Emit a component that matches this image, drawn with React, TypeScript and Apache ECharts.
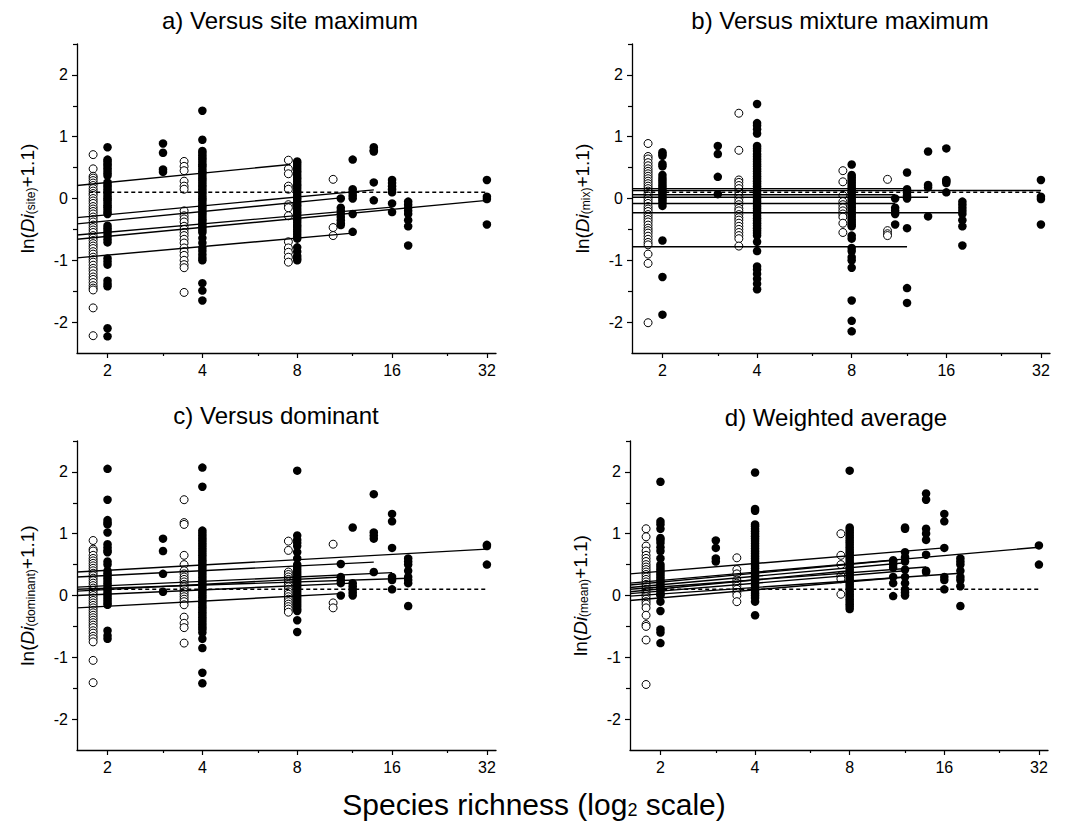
import React, { useEffect, useRef } from 'react';
import * as echarts from 'echarts';

const FONT = '"Liberation Sans", Arial, Helvetica, sans-serif';

const panelTitles = ['a) Versus site maximum', 'b) Versus mixture maximum', 'c) Versus dominant', 'd) Weighted average'];
const yNameSubs = ['(site)', '(mix)', '(dominant)', '(mean)'];
const xTickValues = [2, 4, 8, 16, 32];
const xMinorTickValues = [3, 6, 12, 24];
const yTickValues = [-2, -1, 0, 1, 2];
const yMinorTickValues = [-1.5, -0.5, 0.5, 1.5, 2.5];
const xRange = [1.6, 34.2];
const yRange = [-2.5, 2.5];
const nullLevel = 0.1;
const nullLineX = [1.75, 32];

// richness positions of the columns (open circles are offset to the left)
const openX = [1.8, 3.5, 7.5, 10.4];
const filledX = [2, 3, 4, 8, 11, 12, 14, 16, 18, 32];

// a) versus site maximum
const siteOpen = [
  [0.71, 0.48, 0.36, 0.33, 0.29, 0.25, 0.21, 0.16, 0.12, 0.08, 0.05, 0.0, -0.04, -0.08, -0.13, -0.17, -0.21, -0.25, -0.3, -0.34, -0.38, -0.43, -0.47, -0.51, -0.55, -0.6, -0.64, -0.68, -0.73, -0.77, -0.81, -0.86, -0.9, -0.95, -0.99, -1.03, -1.08, -1.13, -1.17, -1.22, -1.27, -1.31, -1.36, -1.41, -1.45, -1.48, -1.77, -2.22],
  [0.6, 0.52, 0.45, 0.28, 0.2, 0.15, -0.2, -0.28, -0.33, -0.38, -0.45, -0.5, -0.55, -0.6, -0.66, -0.72, -0.8, -0.86, -0.92, -1.0, -1.07, -1.12, -1.52],
  [0.62, 0.48, 0.4, 0.2, 0.15, -0.1, -0.15, -0.28, -0.7, -0.8, -0.87, -0.95, -1.03],
  [0.31, -0.47, -0.6],
];
const siteFilled = [
  [0.83, 0.63, 0.6, 0.56, 0.53, 0.49, 0.45, 0.41, 0.37, 0.26, 0.22, 0.19, 0.15, 0.11, 0.08, 0.04, 0.0, -0.03, -0.07, -0.11, -0.14, -0.18, -0.22, -0.25, -0.44, -0.48, -0.52, -0.56, -0.61, -0.66, -0.71, -0.97, -1.02, -1.07, -1.33, -1.38, -1.42, -2.1, -2.23],
  [0.89, 0.74, 0.47, 0.43],
  [1.42, 0.95, 0.77, 0.74, 0.7, 0.66, 0.63, 0.59, 0.55, 0.52, 0.48, 0.44, 0.41, 0.37, 0.33, 0.3, 0.26, 0.22, 0.19, 0.15, 0.11, 0.08, 0.04, 0.0, -0.03, -0.07, -0.11, -0.14, -0.18, -0.22, -0.25, -0.29, -0.33, -0.36, -0.4, -0.44, -0.47, -0.51, -0.55, -0.64, -0.72, -0.8, -0.85, -0.91, -0.96, -1.0, -1.37, -1.49, -1.65],
  [0.6, 0.57, 0.53, 0.49, 0.45, 0.42, 0.38, 0.34, 0.31, 0.27, 0.23, 0.2, 0.16, 0.12, 0.09, 0.05, 0.01, -0.02, -0.06, -0.1, -0.13, -0.17, -0.21, -0.24, -0.28, -0.32, -0.35, -0.39, -0.43, -0.46, -0.5, -0.54, -0.58, -0.62, -0.65, -0.79, -0.86, -0.93, -0.97, -1.0],
  [0.0, -0.15, -0.2, -0.25, -0.3, -0.35, -0.4, -0.43],
  [0.63, 0.15, 0.1, 0.05, 0.0, -0.25, -0.54],
  [0.83, 0.78, 0.76, 0.26, -0.03],
  [0.3, 0.25, 0.2, 0.15, 0.1, -0.08, -0.22],
  [-0.05, -0.1, -0.15, -0.2, -0.25, -0.35, -0.45, -0.76],
  [0.3, 0.03, -0.01, -0.42],
];
// regression lines: [x start, y start, x end, y end]
const siteLines = [
  [1.6, 0.21, 7.6, 0.55],
  [1.6, -0.31, 14, 0.14],
  [1.6, -0.41, 11, 0.01],
  [1.6, -0.59, 16, -0.14],
  [1.6, -0.66, 32, -0.03],
  [1.6, -0.96, 12, -0.56],
];

// b) versus mixture maximum
const mixOpen = [
  [0.89, 0.68, 0.64, 0.58, 0.53, 0.48, 0.44, 0.4, 0.36, 0.32, 0.28, 0.24, 0.2, 0.16, 0.12, 0.08, 0.04, 0.0, -0.04, -0.08, -0.13, -0.17, -0.21, -0.26, -0.3, -0.34, -0.38, -0.43, -0.48, -0.52, -0.56, -0.61, -0.66, -0.71, -0.75, -0.9, -1.05, -2.01],
  [1.38, 0.78, 0.3, 0.26, 0.21, 0.16, 0.1, 0.05, 0.0, -0.05, -0.1, -0.16, -0.2, -0.26, -0.31, -0.35, -0.4, -0.45, -0.5, -0.55, -0.6, -0.65, -0.77],
  [0.45, 0.27, 0.05, -0.05, -0.1, -0.15, -0.2, -0.25, -0.3, -0.4, -0.55],
  [0.31, -0.52, -0.57, -0.6],
];
const mixFilled = [
  [0.75, 0.72, 0.69, 0.56, 0.52, 0.38, 0.33, 0.29, 0.25, 0.21, 0.17, 0.13, 0.09, 0.05, 0.01, -0.03, -0.07, -0.12, -0.68, -1.27, -1.88],
  [0.85, 0.72, 0.35, 0.07],
  [1.53, 1.22, 1.18, 1.12, 1.05, 0.85, 0.81, 0.77, 0.72, 0.68, 0.64, 0.6, 0.56, 0.52, 0.48, 0.44, 0.4, 0.36, 0.32, 0.28, 0.24, 0.2, 0.16, 0.12, 0.08, 0.04, 0.0, -0.04, -0.08, -0.12, -0.16, -0.2, -0.24, -0.28, -0.32, -0.36, -0.4, -0.44, -0.48, -0.52, -0.56, -0.6, -0.7, -0.85, -1.1, -1.15, -1.22, -1.3, -1.38, -1.47],
  [0.55, 0.38, 0.34, 0.3, 0.26, 0.22, 0.18, 0.14, 0.1, 0.06, 0.02, -0.02, -0.06, -0.1, -0.14, -0.18, -0.22, -0.26, -0.3, -0.34, -0.38, -0.42, -0.45, -0.6, -0.65, -0.8, -0.85, -0.95, -1.0, -1.12, -1.65, -1.98, -2.15],
  [0.0, -0.15, -0.2, -0.25, -0.42],
  [0.42, 0.15, 0.1, 0.05, 0.0, -0.48, -1.45, -1.69],
  [0.76, 0.22, 0.18, -0.29],
  [0.81, 0.3, 0.28, 0.25, 0.1],
  [-0.05, -0.1, -0.15, -0.2, -0.25, -0.35, -0.45, -0.76],
  [0.3, 0.03, -0.01, -0.42],
];
const mixLines = [
  [1.6, 0.16, 12, 0.16],
  [1.6, 0.13, 32, 0.13],
  [1.6, 0.06, 11, 0.06],
  [1.6, 0.02, 14, 0.02],
  [1.6, -0.08, 11, -0.08],
  [1.6, -0.23, 18, -0.23],
  [1.6, -0.78, 12, -0.78],
];

// c) versus dominant
const domOpen = [
  [0.89, 0.75, 0.72, 0.65, 0.6, 0.56, 0.52, 0.48, 0.44, 0.4, 0.36, 0.32, 0.28, 0.24, 0.2, 0.16, 0.12, 0.08, 0.04, 0.0, -0.04, -0.08, -0.12, -0.16, -0.2, -0.24, -0.28, -0.32, -0.36, -0.4, -0.44, -0.48, -0.52, -0.57, -0.61, -0.66, -0.7, -0.75, -1.05, -1.41],
  [1.55, 1.18, 1.15, 0.65, 0.5, 0.4, 0.35, 0.3, 0.26, 0.22, 0.18, 0.14, 0.1, 0.06, 0.02, -0.02, -0.06, -0.1, -0.15, -0.35, -0.45, -0.52, -0.77],
  [0.88, 0.73, 0.38, 0.34, 0.3, 0.26, 0.22, 0.18, 0.14, 0.1, 0.06, 0.02, -0.02, -0.06, -0.1, -0.14, -0.18, -0.22, -0.27],
  [0.83, -0.12, -0.2],
];
const domFilled = [
  [2.05, 1.55, 1.22, 1.18, 1.15, 1.02, 0.83, 0.78, 0.73, 0.7, 0.55, 0.5, 0.4, 0.36, 0.32, 0.28, 0.24, 0.2, 0.16, 0.12, 0.08, 0.04, 0.0, -0.04, -0.08, -0.12, -0.15, -0.57, -0.65, -0.7],
  [0.92, 0.72, 0.35, 0.06],
  [2.07, 1.76, 1.05, 1.01, 0.97, 0.93, 0.89, 0.85, 0.81, 0.77, 0.73, 0.69, 0.65, 0.61, 0.57, 0.53, 0.49, 0.45, 0.41, 0.37, 0.33, 0.29, 0.25, 0.21, 0.17, 0.13, 0.09, 0.05, 0.01, -0.03, -0.07, -0.11, -0.15, -0.19, -0.23, -0.27, -0.31, -0.35, -0.39, -0.43, -0.47, -0.51, -0.55, -0.6, -0.7, -0.85, -1.25, -1.42],
  [2.02, 0.97, 0.9, 0.85, 0.8, 0.7, 0.6, 0.5, 0.46, 0.42, 0.38, 0.34, 0.3, 0.26, 0.22, 0.18, 0.14, 0.1, 0.06, 0.02, -0.02, -0.06, -0.1, -0.14, -0.18, -0.22, -0.25, -0.4, -0.59],
  [0.51, 0.3, 0.25, 0.2, 0.0],
  [1.1, 0.2, 0.15, 0.1, 0.05, 0.0],
  [1.64, 1.02, 0.97, 0.92, 0.38],
  [1.32, 1.2, 0.77, 0.3, 0.25, 0.1],
  [0.6, 0.55, 0.5, 0.4, 0.3, 0.25, 0.2, -0.17],
  [0.82, 0.8, 0.5],
];
const domLines = [
  [1.6, 0.38, 32, 0.75],
  [1.6, 0.3, 14, 0.54],
  [1.6, 0.135, 16, 0.37],
  [1.6, 0.1, 18, 0.28],
  [1.6, 0.07, 11, 0.3],
  [1.6, 0.0, 12, 0.2],
  [1.6, -0.2, 11, 0.03],
];

// d) weighted average
const meanOpen = [
  [1.08, 0.95, 0.8, 0.72, 0.65, 0.6, 0.55, 0.5, 0.46, 0.42, 0.38, 0.34, 0.3, 0.26, 0.22, 0.18, 0.14, 0.1, 0.06, 0.02, -0.02, -0.06, -0.1, -0.14, -0.2, -0.32, -0.47, -0.5, -0.72, -1.44],
  [0.61, 0.42, 0.35, 0.25, 0.2, 0.15, 0.1, 0.05, 0.0, -0.1],
  [1.0, 0.65, 0.5, 0.32, 0.27, 0.02],
  [],
];
const meanFilled = [
  [1.84, 1.2, 1.15, 1.08, 0.93, 0.9, 0.85, 0.78, 0.72, 0.6, 0.5, 0.46, 0.42, 0.38, 0.34, 0.3, 0.26, 0.22, 0.18, 0.14, 0.1, 0.06, 0.02, 0.0, -0.1, -0.25, -0.55, -0.6, -0.77],
  [0.89, 0.77, 0.6, 0.55],
  [1.99, 1.4, 1.37, 1.15, 1.12, 1.08, 1.04, 1.0, 0.96, 0.92, 0.88, 0.84, 0.8, 0.76, 0.72, 0.68, 0.64, 0.6, 0.56, 0.52, 0.48, 0.44, 0.4, 0.36, 0.32, 0.28, 0.24, 0.2, 0.16, 0.12, 0.08, 0.04, 0.0, -0.04, -0.1, -0.32],
  [2.02, 1.1, 1.06, 1.02, 0.98, 0.94, 0.9, 0.86, 0.82, 0.78, 0.74, 0.7, 0.66, 0.62, 0.58, 0.54, 0.5, 0.46, 0.42, 0.38, 0.34, 0.3, 0.26, 0.22, 0.18, 0.14, 0.1, 0.06, 0.02, -0.02, -0.06, -0.1, -0.14, -0.18, -0.22],
  [0.57, 0.55, 0.5, 0.45, 0.3, 0.2, -0.01],
  [1.1, 1.08, 0.7, 0.62, 0.55, 0.42, 0.3, 0.2, 0.1, 0.05, 0.0],
  [1.65, 1.55, 1.08, 1.0, 0.9, 0.66, 0.4, 0.38],
  [1.32, 1.2, 0.77, 0.3, 0.25, 0.1],
  [0.6, 0.55, 0.5, 0.4, 0.3, 0.25, 0.15, -0.17],
  [0.81, 0.5],
];
const meanLines = [
  [1.6, 0.35, 16, 0.77],
  [1.6, 0.2, 32, 0.78],
  [1.6, 0.17, 11, 0.57],
  [1.6, 0.13, 12, 0.53],
  [1.6, 0.1, 14, 0.46],
  [1.6, 0.06, 8, 0.4],
  [1.6, 0.03, 12, 0.4],
  [1.6, -0.01, 18, 0.36],
  [1.6, -0.08, 12, 0.3],
];

const panelOpen = [siteOpen, mixOpen, domOpen, meanOpen];
const panelFilled = [siteFilled, mixFilled, domFilled, meanFilled];
const panelLines = [siteLines, mixLines, domLines, meanLines];

// layout (pixels)
const gridRects = [
  { left: 77, top: 44, width: 419, height: 309 },
  { left: 632, top: 44, width: 418, height: 309 },
  { left: 77, top: 441, width: 419, height: 309 },
  { left: 630, top: 441, width: 418, height: 309 },
];
const titlePos = [
  [290, 20],
  [840, 20],
  [276, 415],
  [836, 417],
];

const lg = (v: number) => Math.log2(v);

function buildOption() {
  const grid: any[] = [];
  const xAxis: any[] = [];
  const yAxis: any[] = [];
  const series: any[] = [];
  const graphic: any[] = [];

  for (let p = 0; p < 4; p++) {
    grid.push({ ...gridRects[p], containLabel: false });
    const xBase = {
      type: 'value',
      gridIndex: p,
      position: 'bottom',
      offset: 0,
      min: lg(xRange[0]),
      max: lg(xRange[1]),
      splitLine: { show: false },
    };
    xAxis.push({
      ...xBase,
      axisLine: { show: true, onZero: false, lineStyle: { color: '#000', width: 1.3 } },
      axisTick: { show: true, inside: false, length: 5, customValues: xTickValues.map(lg), lineStyle: { color: '#000', width: 1.2 } },
      axisLabel: {
        show: true,
        customValues: xTickValues.map(lg),
        formatter: (v: number) => String(Math.round(Math.pow(2, v))),
        color: '#000',
        fontSize: 16,
        fontFamily: FONT,
        margin: 9,
      },
    });
    xAxis.push({
      ...xBase,
      axisLine: { show: false, onZero: false },
      axisTick: { show: true, inside: false, length: 3, customValues: xMinorTickValues.map(lg), lineStyle: { color: '#000', width: 1.2 } },
      axisLabel: { show: false },
    });
    const yBase = {
      type: 'value',
      gridIndex: p,
      position: 'left',
      offset: 0,
      min: yRange[0],
      max: yRange[1],
      splitLine: { show: false },
    };
    yAxis.push({
      ...yBase,
      name: `{n|ln(}{i|Di}{s|${yNameSubs[p]}}{n|+1.1)}`,
      nameLocation: 'middle',
      nameRotate: 90,
      nameGap: 40,
      nameTextStyle: {
        color: '#000',
        fontFamily: FONT,
        fontSize: 19,
        rich: {
          n: { fontSize: 19, fontFamily: FONT, color: '#000' },
          i: { fontSize: 19, fontFamily: FONT, fontStyle: 'italic', color: '#000' },
          s: { fontSize: 12, fontFamily: FONT, color: '#000', verticalAlign: 'bottom', padding: [7, 0, 0, 0] },
        },
      },
      axisLine: { show: true, onZero: false, lineStyle: { color: '#000', width: 1.3 } },
      axisTick: { show: true, inside: false, length: 5, customValues: yTickValues, lineStyle: { color: '#000', width: 1.2 } },
      axisLabel: {
        show: true,
        customValues: yTickValues,
        color: '#000',
        fontSize: 16,
        fontFamily: FONT,
        margin: 9,
      },
    });
    yAxis.push({
      ...yBase,
      axisLine: { show: false, onZero: false },
      axisTick: { show: true, inside: false, length: 4, customValues: yMinorTickValues, lineStyle: { color: '#000', width: 1.2 } },
      axisLabel: { show: false },
    });

    const xi = p * 2;
    const yi = p * 2;
    const openData: number[][] = [];
    panelOpen[p].forEach((col, j) => col.forEach((y) => openData.push([lg(openX[j]), y])));
    const filledData: number[][] = [];
    panelFilled[p].forEach((col, j) => col.forEach((y) => filledData.push([lg(filledX[j]), y])));

    series.push({
      type: 'scatter',
      xAxisIndex: xi,
      yAxisIndex: yi,
      data: openData,
      symbol: 'circle',
      symbolSize: 8,
      itemStyle: { color: '#fff', borderColor: '#000', borderWidth: 1, opacity: 1 },
      z: 2,
      silent: true,
    });
    series.push({
      type: 'scatter',
      xAxisIndex: xi,
      yAxisIndex: yi,
      data: filledData,
      symbol: 'circle',
      symbolSize: 8.5,
      itemStyle: { color: '#000', opacity: 1 },
      z: 3,
      silent: true,
    });
    series.push({
      type: 'line',
      xAxisIndex: xi,
      yAxisIndex: yi,
      data: [
        [lg(nullLineX[0]), nullLevel],
        [lg(nullLineX[1]), nullLevel],
      ],
      symbol: 'none',
      lineStyle: { color: '#000', width: 1.4, type: [4, 3] },
      z: 4,
      silent: true,
    });
    panelLines[p].forEach((ln) => {
      series.push({
        type: 'line',
        xAxisIndex: xi,
        yAxisIndex: yi,
        data: [
          [lg(ln[0]), ln[1]],
          [lg(ln[2]), ln[3]],
        ],
        symbol: 'none',
        lineStyle: { color: '#000', width: 1.4 },
        z: 5,
        silent: true,
      });
    });

    graphic.push({
      type: 'text',
      x: titlePos[p][0],
      y: titlePos[p][1],
      style: {
        text: panelTitles[p],
        font: `24px ${FONT}`,
        fill: '#000',
        textAlign: 'center',
        textVerticalAlign: 'middle',
      },
    });
  }

  graphic.push({
    type: 'text',
    x: 534,
    y: 804,
    style: {
      text: '{a|Species richness (log}{b|2}{a| scale)}',
      textAlign: 'center',
      textVerticalAlign: 'middle',
      rich: {
        a: { fontSize: 30, fontFamily: FONT, fill: '#000' },
        b: { fontSize: 18, fontFamily: FONT, fill: '#000', verticalAlign: 'bottom', padding: [11, 0, 0, 0] },
      },
    },
  });

  return {
    animation: false,
    backgroundColor: '#fff',
    grid,
    xAxis,
    yAxis,
    series,
    graphic,
  };
}

export default function App() {
  const ref = useRef<HTMLDivElement>(null);
  useEffect(() => {
    if (!ref.current) return;
    const chart = echarts.init(ref.current, null, { renderer: 'svg' });
    chart.setOption(buildOption() as any);
    return () => chart.dispose();
  }, []);
  return (
    <div
      ref={ref}
      style={{ position: 'fixed', left: 0, top: 0, width: 1069, height: 823, background: '#fff' }}
    />
  );
}
